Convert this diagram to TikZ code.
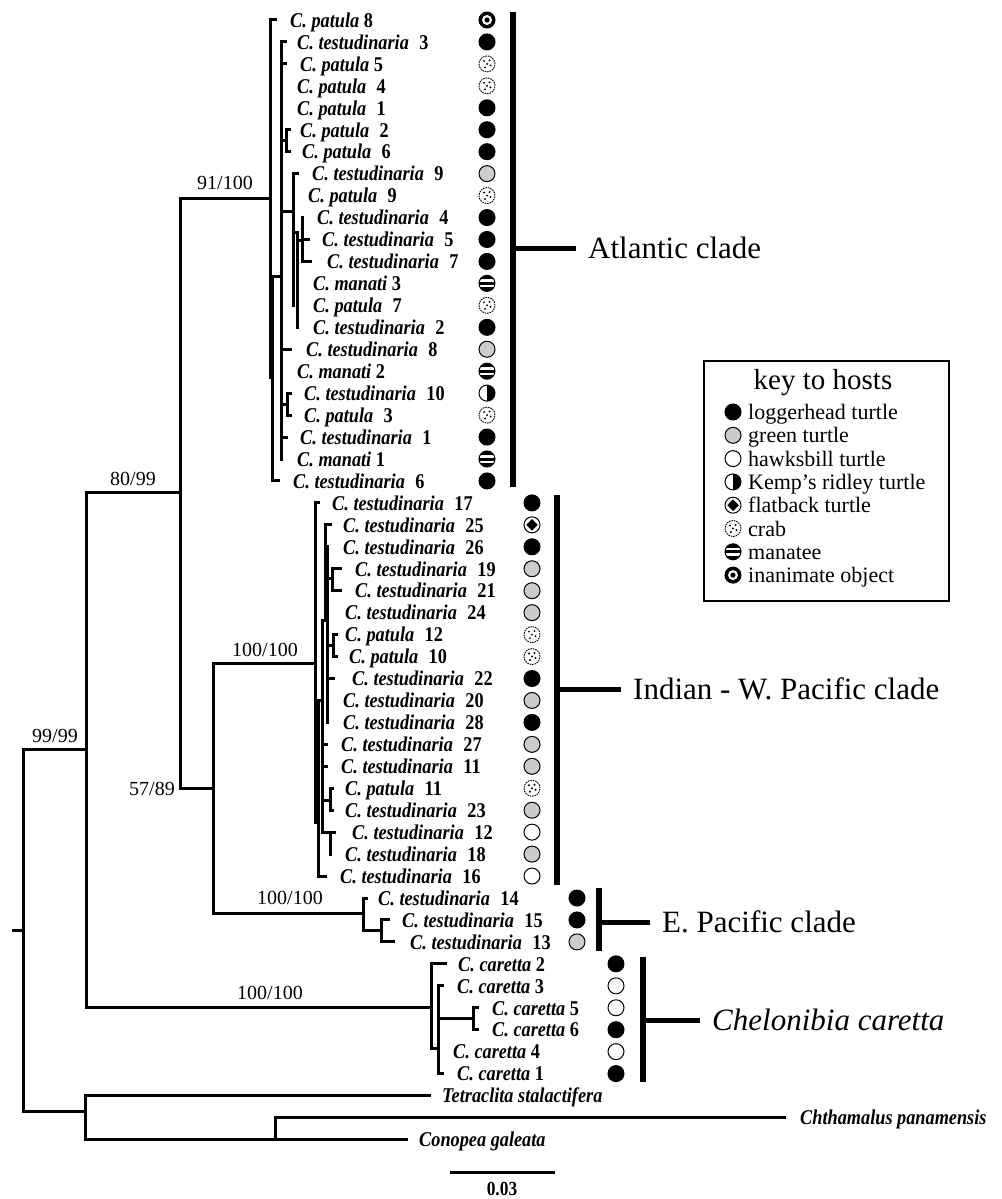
\documentclass[tikz,border=0pt]{standalone}
\usepackage{fontspec}
\setmainfont{Liberation Serif}
\newfontfamily\labfont[FakeStretch=0.87]{Liberation Serif}
\newcommand\R[1]{\fpeval{20+21.95*(#1)}}
\newcommand\Ls[2]{\textbf{\textit{C. #1}}\ \textbf{#2}}
\newcommand\Lb[2]{\textbf{\textit{C. #1}}\hspace{0.5em}\textbf{#2}}
\newcommand\tip[6]{%
  \coordinate (#1e) at (#4,\R{#3});
  \node[lab] (#1) at (#5,\R{#3}) {#6};
  \draw[br] (#2) |- (#1e);}
\newcommand\inode[4]{\coordinate (#1) at (#3,#4); \draw[br] (#2) |- (#1);}
\newcommand\hs[3]{\node[sym#1] (s#3) at (#2,\R{#3}) {};}
\tikzset{
  br/.style={line width=3pt, line cap=rect, line join=miter},
  lab/.style={anchor=west, inner sep=0pt, text height=14.5pt, text depth=0pt, font=\labfont\fontsize{21}{23}\selectfont},
  boot/.style={inner sep=0pt, anchor=west, font=\fontsize{20}{22}\selectfont},
  cladebar/.style={line width=6.5pt},
  cladeconn/.style={line width=5pt},
  cladelab/.style={anchor=west, inner xsep=12pt, inner ysep=0pt, text height=21pt, text depth=0pt, font=\fontsize{31}{36}\selectfont},
  keytxt/.style={anchor=west, inner sep=0pt, text height=15pt, text depth=0pt, font=\fontsize{22}{24}\selectfont},
  sym/.style={circle, minimum size=16pt, inner sep=0pt, draw=black, line width=1pt},
  symL/.style={sym, fill=black},
  symG/.style={sym, fill=black!20},
  symH/.style={sym, fill=white},
  symK/.style={sym, fill=white, path picture={\fill[black] (path picture bounding box.north) rectangle (path picture bounding box.south east);}},
  symF/.style={sym, fill=white, path picture={\fill[black] ([yshift=5.8pt]path picture bounding box.center) -- ([xshift=5.8pt]path picture bounding box.center) -- ([yshift=-5.8pt]path picture bounding box.center) -- ([xshift=-5.8pt]path picture bounding box.center) -- cycle;}},
  symC/.style={sym, fill=white, line width=0.9pt, dash pattern=on 1.6pt off 0.9pt, path picture={\foreach \dx/\dy in {-3/3, 2.5/3.5, 0/0, 3.5/-1.5, -2/-3.5} \fill[black] ([shift={(\dx pt,\dy pt)}]path picture bounding box.center) circle (1.1pt);}},
  symM/.style={sym, fill=white, path picture={
    \fill[black] ([shift={(-9pt,4pt)}]path picture bounding box.center) rectangle ([shift={(9pt,9pt)}]path picture bounding box.center);
    \fill[black] ([shift={(-9pt,-1.5pt)}]path picture bounding box.center) rectangle ([shift={(9pt,1.5pt)}]path picture bounding box.center);
    \fill[black] ([shift={(-9pt,-9pt)}]path picture bounding box.center) rectangle ([shift={(9pt,-4pt)}]path picture bounding box.center);}},
  symI/.style={sym, fill=black, path picture={\fill[white] (path picture bounding box.center) circle (5pt); \fill[black] (path picture bounding box.center) circle (2.6pt);}},
}
\begin{document}
\begin{tikzpicture}[x=1pt,y=-1pt]
\useasboundingbox (0,0) rectangle (1001,1199);
% backbone
\coordinate (rootstub) at (13,930);
\coordinate (root) at (23,930);
\draw[br] (rootstub) -- (root);
\inode{nB}{root}{86}{749}
\inode{nC}{nB}{180}{492}
\inode{nD}{nC}{213}{788}
% Atlantic clade
\inode{nAtl}{nC}{270}{198}
\tip{t0}{nAtl}{0}{275}{290}{\Ls{patula}{8}}
\inode{nA1}{nAtl}{272}{377}
\tip{t21}{nA1}{21}{278}{293}{\Lb{testudinaria}{6}}
\inode{nA2}{nA1}{281}{276}
\tip{t1}{nA2}{1}{285}{297}{\Lb{testudinaria}{3}}
\tip{t2}{nA2}{2}{285}{300}{\Ls{patula}{5}}
\tip{t3}{nA2}{3}{281}{297}{\Lb{patula}{4}}
\tip{t4}{nA2}{4}{281}{297}{\Lb{patula}{1}}
\inode{nP26}{nA2}{286}{140}
\tip{t5}{nP26}{5}{289}{300}{\Lb{patula}{2}}
\tip{t6}{nP26}{6}{289}{302}{\Lb{patula}{6}}
\inode{nX}{nA2}{293}{211}
\tip{t7}{nX}{7}{297}{312}{\Lb{testudinaria}{9}}
\tip{t8}{nX}{8}{293}{308}{\Lb{patula}{9}}
\tip{t13}{nX}{13}{293}{313}{\Lb{patula}{7}}
\inode{nX2}{nX}{297}{232}
\tip{t12}{nX2}{12}{297}{313}{\Ls{manati}{3}}
\tip{t14}{nX2}{14}{297}{313}{\Lb{testudinaria}{2}}
\inode{nX3}{nX2}{302}{240}
\tip{t9}{nX3}{9}{302}{317}{\Lb{testudinaria}{4}}
\tip{t10}{nX3}{10}{308}{322}{\Lb{testudinaria}{5}}
\tip{t11}{nX3}{11}{310}{327}{\Lb{testudinaria}{7}}
\tip{t15}{nA2}{15}{290}{306}{\Lb{testudinaria}{8}}
\tip{t16}{nA2}{16}{281}{297}{\Ls{manati}{2}}
\inode{nK}{nA2}{287}{404}
\tip{t17}{nK}{17}{290}{304}{\Lb{testudinaria}{10}}
\tip{t18}{nK}{18}{290}{304}{\Lb{patula}{3}}
\tip{t19}{nA2}{19}{286}{300}{\Lb{testudinaria}{1}}
\tip{t20}{nA2}{20}{281}{297}{\Ls{manati}{1}}
% Indian - W. Pacific clade
\inode{nInd}{nD}{315}{663}
\tip{t22}{nInd}{22}{318}{332}{\Lb{testudinaria}{17}}
\inode{nI1}{nInd}{318}{822}
\tip{t39}{nI1}{39}{325}{340}{\Lb{testudinaria}{16}}
\inode{nI2}{nI1}{322}{700}
\inode{nI3}{nI2}{325}{620}
\tip{t23}{nI3}{23}{330}{343}{\Lb{testudinaria}{25}}
\inode{nI4}{nI3}{327}{600}
\tip{t24}{nI4}{24}{327}{343}{\Lb{testudinaria}{26}}
\inode{nT19}{nI4}{332}{578}
\tip{t25}{nT19}{25}{340}{355}{\Lb{testudinaria}{19}}
\tip{t26}{nT19}{26}{340}{355}{\Lb{testudinaria}{21}}
\tip{t27}{nI4}{27}{327}{345}{\Lb{testudinaria}{24}}
\inode{nP12}{nI4}{333}{645}
\tip{t28}{nP12}{28}{336}{345}{\Lb{patula}{12}}
\tip{t29}{nP12}{29}{336}{349}{\Lb{patula}{10}}
\tip{t30}{nI4}{30}{333}{352}{\Lb{testudinaria}{22}}
\tip{t31}{nI4}{31}{327}{343}{\Lb{testudinaria}{20}}
\tip{t32}{nI4}{32}{327}{343}{\Lb{testudinaria}{28}}
\tip{t33}{nI2}{33}{326}{341}{\Lb{testudinaria}{27}}
\tip{t34}{nI2}{34}{326}{341}{\Lb{testudinaria}{11}}
\inode{nP11}{nI2}{330}{800}
\tip{t35}{nP11}{35}{332}{345}{\Lb{patula}{11}}
\tip{t36}{nP11}{36}{332}{345}{\Lb{testudinaria}{23}}
\inode{nT12}{nI2}{330}{832}
\tip{t37}{nT12}{37}{334}{352}{\Lb{testudinaria}{12}}
\tip{t38}{nT12}{38}{330}{345}{\Lb{testudinaria}{18}}
% E. Pacific clade
\inode{nEP}{nD}{363}{913}
\tip{t40}{nEP}{40}{366}{378}{\Lb{testudinaria}{14}}
\inode{nE2}{nEP}{381}{930}
\tip{t41}{nE2}{41}{388}{402}{\Lb{testudinaria}{15}}
\tip{t42}{nE2}{42}{393}{410}{\Lb{testudinaria}{13}}
% Chelonibia caretta
\inode{nCar}{nB}{431}{1007}
\tip{t43}{nCar}{43}{445}{458}{\Ls{caretta}{2}}
\inode{nC2}{nCar}{438}{1048}
\tip{t44}{nC2}{44}{442}{457}{\Ls{caretta}{3}}
\inode{nC56}{nC2}{473}{1018}
\tip{t45}{nC56}{45}{477}{492}{\Ls{caretta}{5}}
\tip{t46}{nC56}{46}{477}{492}{\Ls{caretta}{6}}
\tip{t47}{nC2}{47}{438}{453}{\Ls{caretta}{4}}
\tip{t48}{nC2}{48}{442}{457}{\Ls{caretta}{1}}
% outgroups
\inode{nOut}{root}{85}{1111}
\tip{t49}{nOut}{49}{429}{442}{\textbf{\textit{Tetraclita stalactifera}}}
\inode{nCC}{nOut}{275}{1139}
\tip{t50}{nCC}{50}{784}{800}{\textbf{\textit{Chthamalus panamensis}}}
\tip{t51}{nCC}{51}{406}{419}{\textbf{\textit{Conopea galeata}}}
% support values
\node[boot] (b91) at (197,183) {91/100};
\node[boot] (b80) at (110,479) {80/99};
\node[boot] (b99) at (32,736) {99/99};
\node[boot, anchor=east] (b57) at (175,789) {57/89};
\node[boot] (b100i) at (232,650) {100/100};
\node[boot] (b100e) at (257,898) {100/100};
\node[boot] (b100c) at (237,993) {100/100};
% host symbols
\hs{I}{487}{0}\hs{L}{487}{1}\hs{C}{487}{2}\hs{C}{487}{3}\hs{L}{487}{4}\hs{L}{487}{5}
\hs{L}{487}{6}\hs{G}{487}{7}\hs{C}{487}{8}\hs{L}{487}{9}\hs{L}{487}{10}\hs{L}{487}{11}
\hs{M}{487}{12}\hs{C}{487}{13}\hs{L}{487}{14}\hs{G}{487}{15}\hs{M}{487}{16}\hs{K}{487}{17}
\hs{C}{487}{18}\hs{L}{487}{19}\hs{M}{487}{20}\hs{L}{487}{21}
\hs{L}{532}{22}\hs{F}{532}{23}\hs{L}{532}{24}\hs{G}{532}{25}\hs{G}{532}{26}\hs{G}{532}{27}
\hs{C}{532}{28}\hs{C}{532}{29}\hs{L}{532}{30}\hs{G}{532}{31}\hs{L}{532}{32}\hs{G}{532}{33}
\hs{G}{532}{34}\hs{C}{532}{35}\hs{G}{532}{36}\hs{H}{532}{37}\hs{G}{532}{38}\hs{H}{532}{39}
\hs{L}{577}{40}\hs{L}{577}{41}\hs{G}{577}{42}
\hs{L}{616}{43}\hs{H}{616}{44}\hs{H}{616}{45}\hs{L}{616}{46}\hs{H}{616}{47}\hs{L}{616}{48}
% clade bars and labels
\draw[cladebar] (513,12) -- (513,487);
\coordinate (atlJ) at (513,248);
\node[cladelab] (atl) at (576,248) {Atlantic clade};
\draw[cladeconn] (atlJ) -- (atl.west);
\draw[cladebar] (557,495) -- (557,885);
\coordinate (indJ) at (557,689);
\node[cladelab] (ind) at (621,689) {Indian - W. Pacific clade};
\draw[cladeconn] (indJ) -- (ind.west);
\draw[cladebar] (599,888) -- (599,951);
\coordinate (epJ) at (599,922);
\node[cladelab] (ep) at (650,922) {E. Pacific clade};
\draw[cladeconn] (epJ) -- (ep.west);
\draw[cladebar] (643,957) -- (643,1082);
\coordinate (carJ) at (643,1020);
\node[cladelab] (car) at (700,1020) {\textit{Chelonibia caretta}};
\draw[cladeconn] (carJ) -- (car.west);
% key
\node[draw, line width=2.4pt, anchor=north west, minimum width=245pt, minimum height=240pt, inner sep=0pt] (keybox) at (703,360) {};
\node[font=\fontsize{29}{32}\selectfont, inner sep=0pt] (keytitle) at (823,383) {key to hosts};
\node[symL] (kL) at (733,412) {}; \node[keytxt] (kLt) at (748,412) {loggerhead turtle};
\node[symG] (kG) at (733,435.3) {}; \node[keytxt] (kGt) at (748,435.3) {green turtle};
\node[symH] (kH) at (733,458.6) {}; \node[keytxt] (kHt) at (748,458.6) {hawksbill turtle};
\node[symK] (kK) at (733,481.9) {}; \node[keytxt] (kKt) at (748,481.9) {Kemp’s ridley turtle};
\node[symF] (kF) at (733,505.2) {}; \node[keytxt] (kFt) at (748,505.2) {flatback turtle};
\node[symC] (kC) at (733,528.5) {}; \node[keytxt] (kCt) at (748,528.5) {crab};
\node[symM] (kM) at (733,551.8) {}; \node[keytxt] (kMt) at (748,551.8) {manatee};
\node[symI] (kI) at (733,575.1) {}; \node[keytxt] (kIt) at (748,575.1) {inanimate object};
% scale bar
\coordinate (sb1) at (450,1172);
\coordinate (sb2) at (555,1172);
\draw[line width=3pt] (sb1) -- (sb2);
\node[inner sep=0pt, font=\labfont\fontsize{20}{22}\selectfont\bfseries] (sbl) at (502,1189) {0.03};
\end{tikzpicture}
\end{document}
